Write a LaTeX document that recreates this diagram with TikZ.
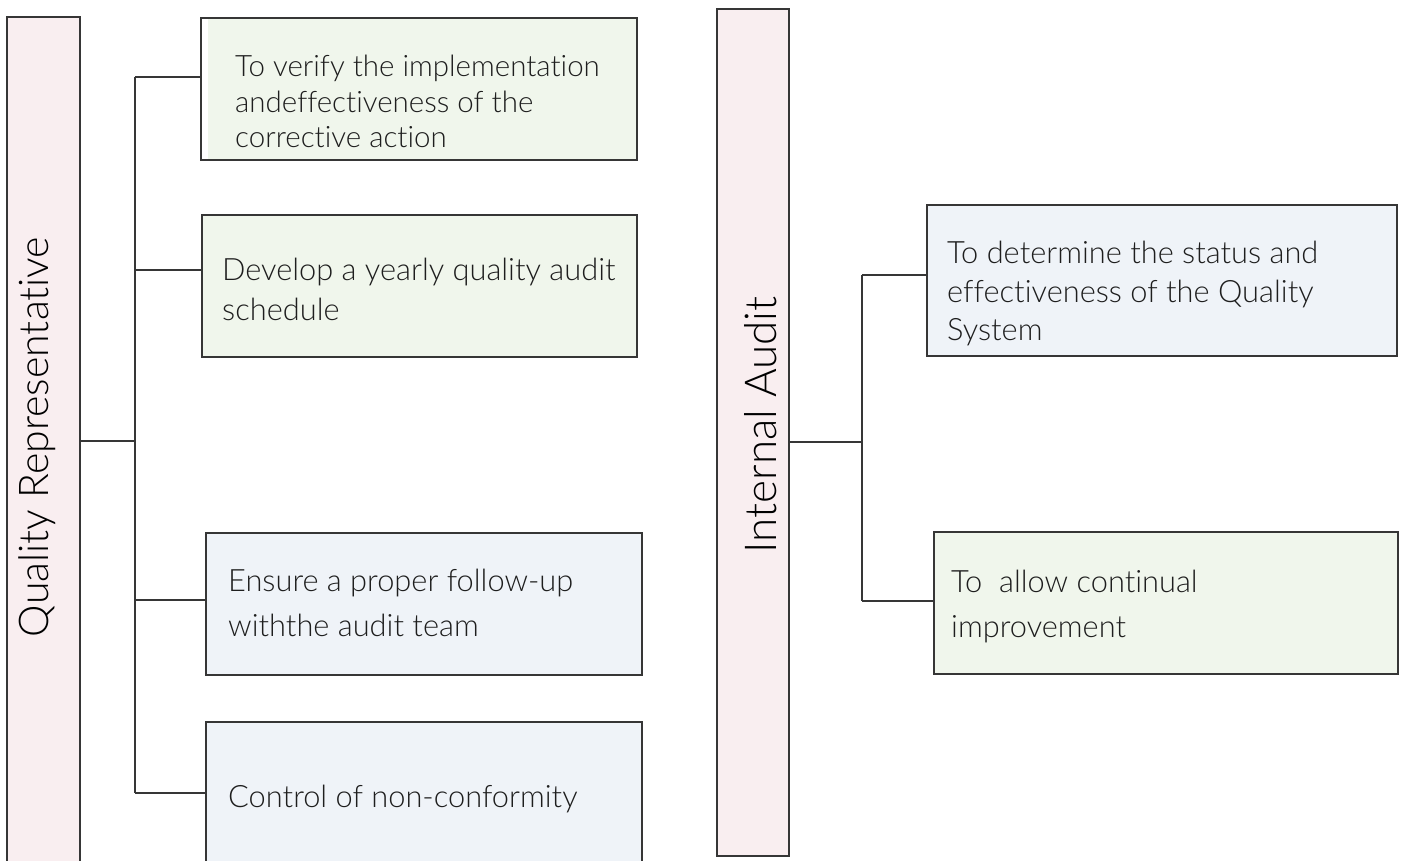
\documentclass[tikz,border=0pt]{standalone}
\usepackage{fontspec}
\setmainfont{Lato}[UprightFont=* Light,Ligatures=NoCommon]
\definecolor{pinkfill}{HTML}{F9EEF0}
\definecolor{greenfill}{HTML}{F0F6EC}
\definecolor{bluefill}{HTML}{EFF3F8}
\definecolor{edge}{HTML}{363636}
\definecolor{ink}{HTML}{1E1E1E}
\begin{document}
\begin{tikzpicture}[x=1pt,y=-1pt,
  box/.style={draw=edge,line width=1.3pt,anchor=north west,inner sep=0pt,outer sep=0pt},
  headbox/.style={box,fill=pinkfill},
  gbox/.style={box,fill=greenfill},
  bbox/.style={box,fill=bluefill},
  headtxt/.style={rotate=90,inner sep=0pt,text=black},
  txt/.style={anchor=west,align=left,inner sep=0pt,text=ink,
    execute at begin node=\strut,execute at end node=\strut},
  conn/.style={draw=edge,line width=1.2pt}]
\useasboundingbox (0,0) rectangle (1402,861);
\fill[white] (0,0) rectangle (1402,861);

% left column
\node[headbox,minimum width=73pt,minimum height=870pt] (qr) at (7,17) {};
\node[headtxt,font=\fontsize{41}{48}\selectfont] (qrt) at (37,437) {Quality Representative};

\node[gbox,minimum width=436pt,minimum height=142pt] (bA) at (201,18) {};
\fill[white] ([xshift=0.7pt,yshift=-0.7pt]bA.north west) rectangle ([xshift=6.5pt,yshift=0.7pt]bA.south west);
\node[gbox,minimum width=435pt,minimum height=142pt] (bB) at (202,215) {};
\node[bbox,minimum width=436pt,minimum height=142pt] (bC) at (206,533) {};
\node[bbox,minimum width=436pt,minimum height=160pt] (bD) at (206,722) {};

\node[txt,font=\fontsize{29.5}{35.5}\selectfont] (tA) at (235,107) {To verify the implementation\\andeffectiveness of the\\corrective action};
\node[txt,font=\fontsize{30.8}{40}\selectfont] (tB) at (222,295) {Develop a yearly quality audit\\schedule};
\node[txt,font=\fontsize{30.8}{45}\selectfont] (tC) at (228,610) {Ensure a proper follow-up\\withthe audit team};
\node[txt,font=\fontsize{30.8}{46}\selectfont] (tD) at (228,798.5) {Control of non-conformity};

\coordinate (jQ) at (135,441);
\coordinate (jA) at (135,77);
\coordinate (jB) at (135,270);
\coordinate (jC) at (135,600);
\coordinate (jD) at (135,793);
\draw[conn] (qr.east |- jQ) -- (jQ);
\draw[conn] (jA) -- (jD);
\draw[conn] (jA) -- (jA -| bA.west);
\draw[conn] (jB) -- (jB -| bB.west);
\draw[conn] (jC) -- (jC -| bC.west);
\draw[conn] (jD) -- (jD -| bD.west);

% right column
\node[headbox,minimum width=72pt,minimum height=847pt] (ia) at (717,9) {};
\node[headtxt,font=\fontsize{44}{50}\selectfont] (iat) at (761,425) {Internal Audit};

\node[bbox,minimum width=470pt,minimum height=151pt] (bE) at (927,205) {};
\node[gbox,minimum width=464pt,minimum height=142pt] (bF) at (934,532) {};

\node[txt,font=\fontsize{30.8}{38.5}\selectfont] (tE) at (947,297) {To determine the status and\\effectiveness of the Quality\\System};
\node[txt,font=\fontsize{30.8}{45}\selectfont] (tF) at (951,610.5) {To\ \ allow continual\\improvement};

\coordinate (jI) at (862,442);
\coordinate (jE) at (862,275);
\coordinate (jF) at (862,601);
\draw[conn] (ia.east |- jI) -- (jI);
\draw[conn] (jE) -- (jF);
\draw[conn] (jE) -- (jE -| bE.west);
\draw[conn] (jF) -- (jF -| bF.west);
\end{tikzpicture}
\end{document}
